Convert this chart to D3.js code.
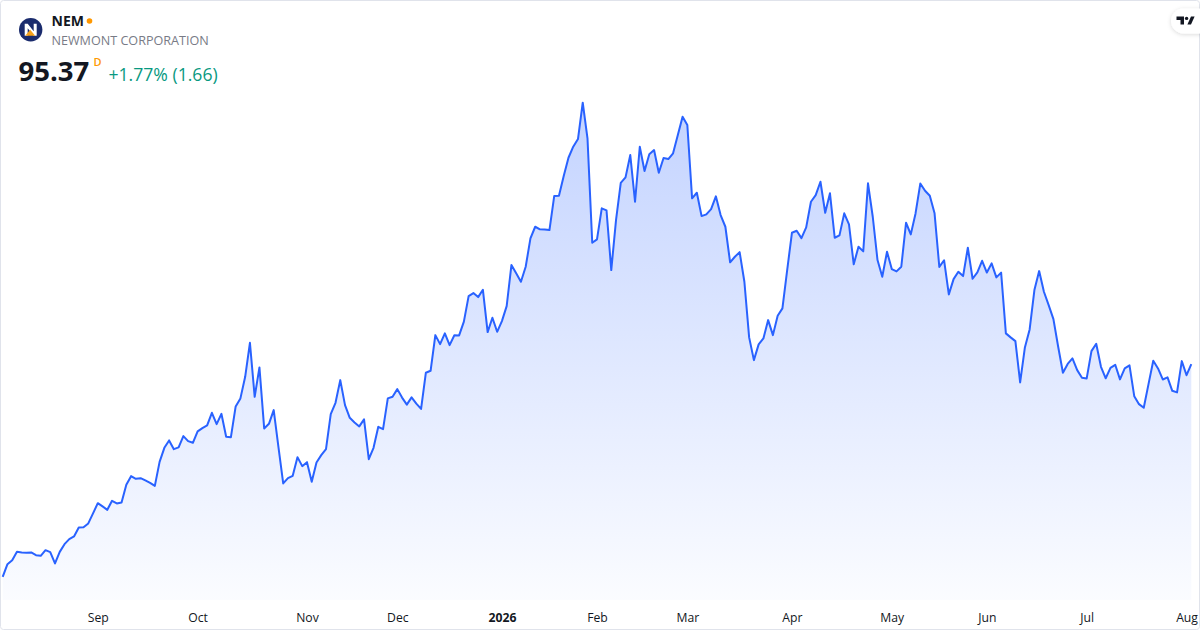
<!DOCTYPE html>
<html>
<head>
<meta charset="utf-8">
<script src="https://cdn.jsdelivr.net/npm/d3@7"></script>
<style>
  html, body { margin: 0; padding: 0; background: #ffffff; }
  svg { display: block; font-family: "Open Sans", "Noto Sans", sans-serif; }
</style>
</head>
<body>
<div id="chart"></div>
<script>
var width = 1200;
var height = 630;

// Daily closes, one per trading day (Aug 2025 - Aug 2026)
var closes = [
  63.47, 65.37, 65.97, 67.22, 67.13, 67.07, 67.13, 66.72, 66.62, 67.47,
  67.17, 65.48, 67.22, 68.37, 69.12, 69.53, 70.88, 70.90, 71.48, 72.98,
  74.52, 74.03, 73.52, 74.87, 74.48, 74.63, 77.27, 78.57, 78.17, 78.27,
  77.93, 77.57, 77.12, 80.72, 82.82, 83.93, 82.62, 82.88, 84.57, 83.82,
  83.57, 85.28, 85.77, 86.18, 88.07, 86.37, 87.92, 84.47, 84.42, 89.03,
  90.23, 93.47, 98.57, 90.47, 94.88, 85.73, 86.42, 88.47, 82.92, 77.48,
  78.27, 78.62, 81.42, 80.07, 80.67, 77.72, 80.63, 81.72, 82.62, 87.87,
  89.57, 92.97, 89.22, 87.32, 86.63, 86.03, 87.08, 81.12, 82.82, 85.97,
  85.62, 90.23, 90.47, 91.62, 90.35, 89.30, 90.38, 89.45, 88.65, 94.07,
  94.37, 99.72, 98.37, 99.98, 98.22, 99.70, 99.68, 101.75, 105.57, 106.02,
  105.42, 106.52, 100.17, 102.32, 100.22, 101.82, 104.07, 110.22, 108.98, 107.72,
  109.97, 114.23, 115.97, 115.58, 115.55, 115.47, 120.57, 120.62, 123.57, 126.32,
  127.97, 129.12, 134.57, 129.23, 113.57, 114.08, 118.73, 118.43, 109.47, 116.97,
  122.55, 123.38, 126.72, 119.72, 127.97, 124.32, 126.83, 127.47, 124.07, 126.27,
  126.12, 126.98, 129.72, 132.47, 131.22, 120.23, 121.07, 117.57, 117.83, 118.62,
  120.53, 117.72, 115.97, 110.63, 111.47, 112.17, 107.72, 99.38, 95.97, 98.33,
  99.23, 101.97, 99.72, 102.62, 103.73, 109.47, 115.07, 115.37, 114.27, 115.88,
  119.72, 120.72, 122.72, 118.07, 120.98, 114.32, 114.68, 117.98, 116.33, 110.33,
  112.97, 112.28, 122.48, 117.47, 110.97, 108.47, 112.22, 109.62, 109.28, 109.97,
  116.57, 114.83, 117.97, 122.45, 121.37, 120.62, 117.98, 109.95, 110.95, 105.83,
  108.12, 109.22, 108.57, 112.82, 108.17, 109.13, 110.87, 109.10, 110.48, 108.38,
  109.09, 99.98, 99.38, 98.82, 92.63, 97.88, 100.58, 106.47, 109.32, 106.22,
  104.22, 102.12, 97.97, 94.07, 95.40, 96.23, 94.47, 93.32, 93.23, 97.32,
  98.42, 94.97, 93.25, 94.82, 95.27, 93.08, 94.73, 95.18, 90.57, 89.37,
  88.82, 92.37, 95.87, 94.72, 93.07, 93.38, 91.37, 91.13, 95.82, 93.71,
  95.37
];

// Month ticks: index of the first trading day of each month
var tickIndex = [20, 41, 64, 83, 105, 125, 144, 166, 187, 207, 228, 249];
var tickLabels = ["Sep", "Oct", "Nov", "Dec", "2026", "Feb", "Mar", "Apr", "May", "Jun", "Jul", "Aug"];

var symbol = "NEM";
var company = "NEWMONT CORPORATION";
var lastPrice = "95.37";
var change = "+1.77% (1.66)";

var margin = { top: 66.5, bottom: 30, left: 2.7, right: 8.7 };

var svg = d3
  .select("#chart")
  .append("svg")
  .attr("width", width)
  .attr("height", height);

var defs = svg.append("defs");

// Area gradient
var grad = defs
  .append("linearGradient")
  .attr("id", "areaFill")
  .attr("gradientUnits", "userSpaceOnUse")
  .attr("x1", 0).attr("y1", 100)
  .attr("x2", 0).attr("y2", height - margin.bottom);
grad.append("stop").attr("offset", "0%").attr("stop-color", "#2962ff").attr("stop-opacity", 0.28);
grad.append("stop").attr("offset", "100%").attr("stop-color", "#2962ff").attr("stop-opacity", 0.02);

var shadow = defs.append("filter").attr("id", "shadow")
  .attr("x", "-50%").attr("y", "-50%").attr("width", "200%").attr("height", "200%");
shadow.append("feDropShadow")
  .attr("dx", 0).attr("dy", 1).attr("stdDeviation", 2)
  .attr("flood-color", "#000").attr("flood-opacity", 0.15);

defs.append("clipPath").attr("id", "frameClip")
  .append("rect").attr("x", 1).attr("y", 1).attr("width", width - 2).attr("height", height - 2);

// Scales
var x_Scale = d3
  .scaleLinear()
  .domain([0, closes.length - 1])
  .range([margin.left, width - margin.right]);

var y_Scale = d3
  .scaleLinear()
  .domain([60, 140])
  .range([height - margin.bottom, margin.top]);

// Area + line
var area = d3.area()
  .x(function (d, i) { return x_Scale(i); })
  .y0(y_Scale(60))
  .y1(function (d) { return y_Scale(d); });

var line = d3.line()
  .x(function (d, i) { return x_Scale(i); })
  .y(function (d) { return y_Scale(d); });

var plot = svg.append("g").attr("clip-path", "url(#frameClip)");

plot.append("path")
  .datum(closes)
  .attr("d", area)
  .attr("fill", "url(#areaFill)");

plot.append("path")
  .datum(closes)
  .attr("d", line)
  .attr("fill", "none")
  .attr("stroke", "#2962ff")
  .attr("stroke-width", 2)
  .attr("stroke-linejoin", "round");

// X axis (labels only)
var xAxis = d3.axisBottom(x_Scale)
  .tickValues(tickIndex)
  .tickSize(0)
  .tickPadding(0)
  .tickFormat(function (d, i) { return tickLabels[i]; });

var xg = svg.append("g")
  .attr("class", "xAxis")
  .attr("transform", "translate(0," + 613 + ")")
  .call(xAxis);

xg.select(".domain").remove();
xg.selectAll("text")
  .attr("font-family", "'Open Sans', 'Noto Sans', sans-serif")
  .attr("font-size", 12.2)
  .attr("fill", "#131722")
  .attr("font-weight", function (d, i) { return tickLabels[i] === "2026" ? 700 : 400; });

// Frame
svg.append("rect")
  .attr("x", 0.5).attr("y", 0.5)
  .attr("width", width - 1).attr("height", height - 1)
  .attr("rx", 3)
  .attr("fill", "none")
  .attr("stroke", "#e0e3eb");

// Header: logo
var logo = svg.append("g").attr("transform", "translate(30.7,29.7)");
logo.append("circle").attr("r", 11.7).attr("fill", "#1a2b6d");
logo.append("path")
  .attr("d", "M-6,6 V-6 H-3 L3,1.5 V-6 H6 V6 H3 L-3,-1.5 V6 Z")
  .attr("fill", "#ffffff");
logo.append("path")
  .attr("d", "M-5.5,6 L-0.5,0 L4.5,6 Z")
  .attr("fill", "#f5a01a");

svg.append("text")
  .attr("x", 51.5).attr("y", 26)
  .attr("font-size", 14)
  .attr("font-weight", 700)
  .attr("fill", "#131722")
  .text(symbol);

svg.append("circle")
  .attr("cx", 89.5).attr("cy", 21)
  .attr("r", 2.8)
  .attr("fill", "#ff9800");

svg.append("text")
  .attr("x", 51.5).attr("y", 45)
  .attr("font-size", 12.6)
  .attr("fill", "#787b86")
  .text(company);

svg.append("text")
  .attr("x", 18.5).attr("y", 81)
  .attr("font-size", 27.5)
  .attr("font-weight", 700)
  .attr("fill", "#131722")
  .text(lastPrice);

svg.append("text")
  .attr("x", 93.5).attr("y", 65.5)
  .attr("font-size", 11)
  .attr("font-weight", 600)
  .attr("fill", "#ff9800")
  .text("D");

svg.append("text")
  .attr("x", 108.5).attr("y", 81)
  .attr("font-size", 17.6)
  .attr("fill", "#089981")
  .text(change);

// TradingView badge, top right
var badge = svg.append("g");
badge.append("rect")
  .attr("x", 1171).attr("y", 8.5)
  .attr("width", 40).attr("height", 25)
  .attr("rx", 12.5)
  .attr("fill", "#ffffff")
  .attr("filter", "url(#shadow)");
badge.append("path")
  .attr("d", "M1176.5,16.5 H1184 V24.5 H1180.5 V20 H1176.5 Z")
  .attr("fill", "#131722");
badge.append("circle")
  .attr("cx", 1186.6).attr("cy", 18.4).attr("r", 1.7)
  .attr("fill", "#131722");
badge.append("path")
  .attr("d", "M1191,16.5 H1194.6 L1191,24.5 H1187.4 Z")
  .attr("fill", "#131722");
</script>
</body>
</html>
